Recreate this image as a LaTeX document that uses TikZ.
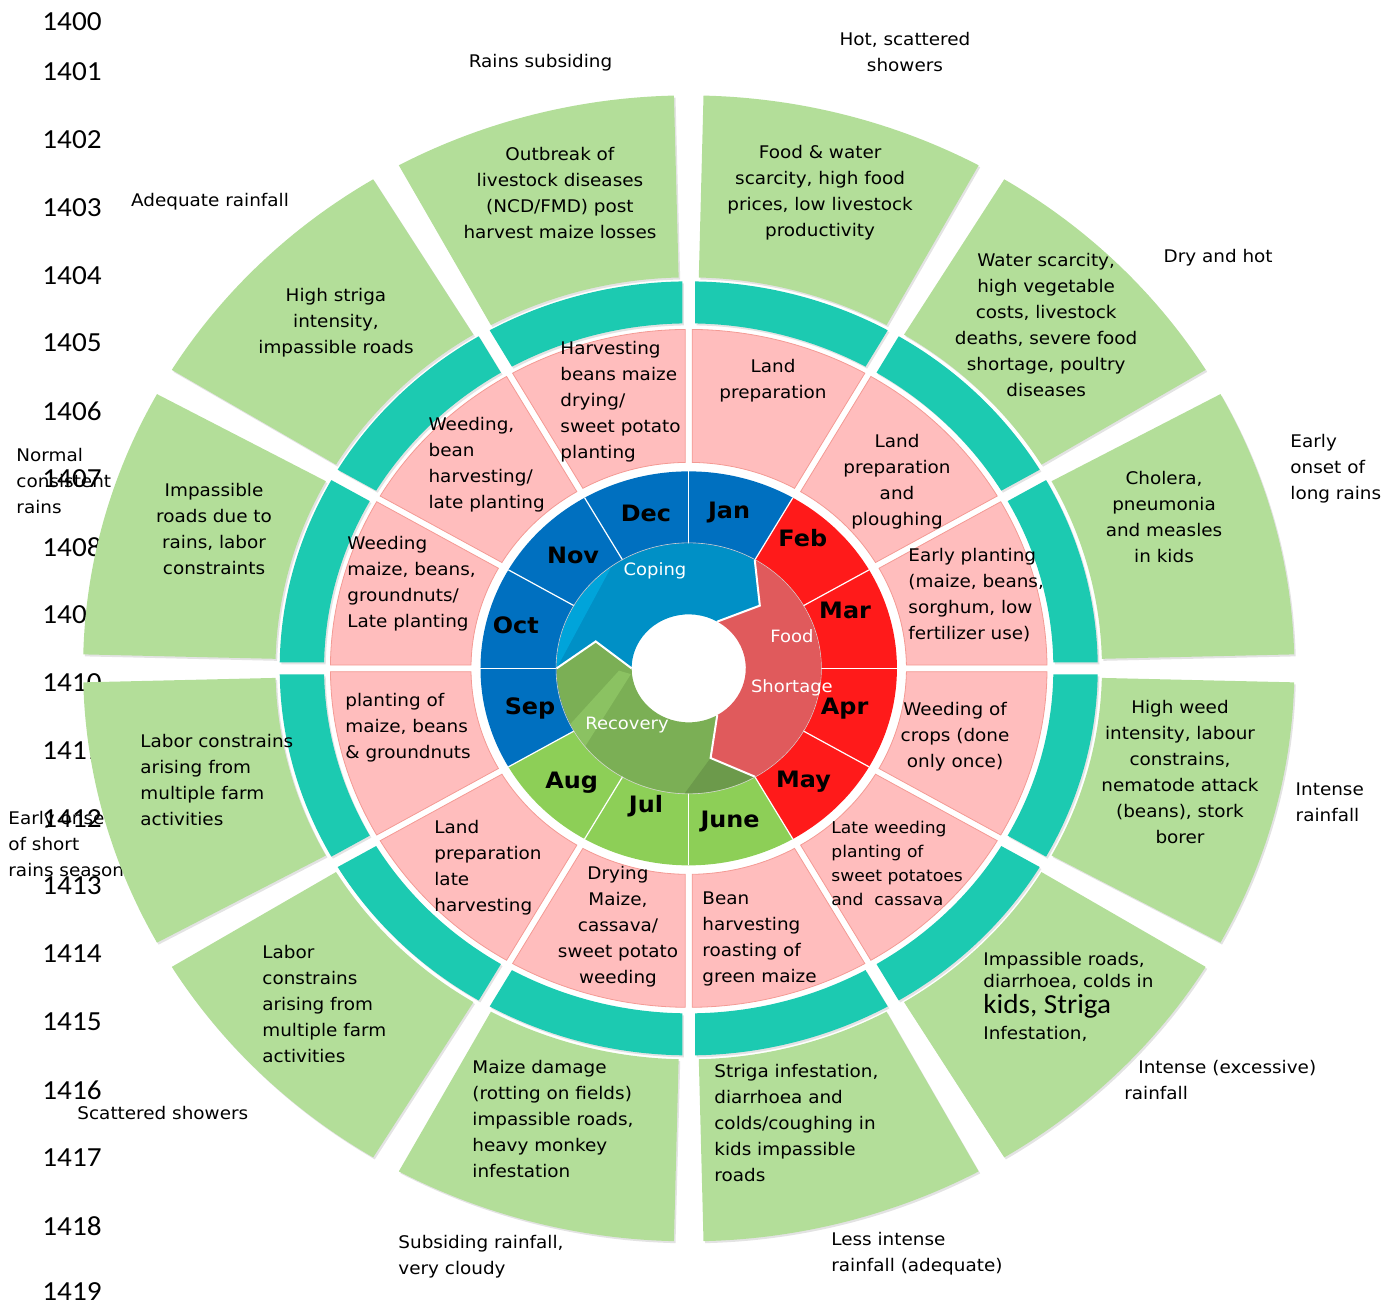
\documentclass[tikz,border=0pt]{standalone}
\usepackage{fontspec}
\setmainfont{DejaVu Sans}[FakeStretch=1.057]
\newfontfamily\numfont{Carlito}[FakeStretch=1.057]
\definecolor{monblue}{HTML}{0070C0}
\definecolor{monred}{HTML}{FF1A1A}
\definecolor{mongreen}{HTML}{8DCF57}
\definecolor{actpink}{HTML}{FFBDBD}
\definecolor{actline}{HTML}{F49A94}
\definecolor{ringteal}{HTML}{1CCAB1}
\definecolor{riskgreen}{HTML}{B3DE99}
\definecolor{copeblue}{HTML}{0090C6}
\definecolor{copelight}{HTML}{00A4DA}
\definecolor{foodred}{HTML}{E05A5C}
\definecolor{recgreen}{HTML}{7BAF55}
\definecolor{reclight}{HTML}{8BC262}
\definecolor{recdark}{HTML}{6C9A4B}
\newcommand\annsec[5]{({#1+deg(#5/#3)}:#3) -- ({#1+deg(#5/#4)}:#4)
  arc[start angle={#1+deg(#5/#4)}, end angle={#2-deg(#5/#4)}, radius=#4]
  -- ({#2-deg(#5/#3)}:#3)
  arc[start angle={#2-deg(#5/#3)}, end angle={#1+deg(#5/#3)}, radius=#3] -- cycle}
\begin{document}
\begin{tikzpicture}[x=0.5285pt, y=0.5pt,
  acttext/.style={inner sep=0pt, align=center, font=\fontsize{8.7}{13}\selectfont},
  risktext/.style={inner sep=0pt, align=center, font=\fontsize{8.7}{13}\selectfont},
  wxtext/.style={inner sep=0pt, align=center, font=\fontsize{8.7}{13}\selectfont},
  yrtext/.style={inner sep=0pt, anchor=west, font=\numfont\fontsize{13.8}{16}\selectfont},
  monlabel/.style={inner sep=0pt, font=\bfseries\fontsize{11.3}{13}\selectfont},
  cyclabel/.style={inner sep=0pt, text=white, font=\fontsize{8.5}{13}\selectfont},
  leftblock/.style={anchor=west, align=left},
  actsec/.style={fill=actpink, draw=actline, line width=0.4pt},
  secshadow/.style={fill=gray!22, shift={(1.5,-2)}}]
\useasboundingbox (-651.6,-635.6) rectangle (657.8,668.4);

\foreach \n/\yy in {1400/22,1401/72,1402/140,1403/208,1404/276,1405/343,1406/411,1407/479,1408/547,1409/615,1410/683,1411/751,1412/819,1413/886,1414/954,1415/1022,1416/1090,1417/1158,1418/1226,1419/1292}
  \node[yrtext] (yr\n) at (-611.8,{668.4-\yy}) {\n};

\node[wxtext] (wxDec) at (-140.2,605.4) {Rains subsiding};
\node[wxtext] (wxJan) at (204.6,616.4) {Hot, scattered\\showers};
\node[wxtext] (wxNov) at (-452.9,466.4) {Adequate rainfall};
\node[wxtext] (wxFeb) at (500.9,410.4) {Dry and hot};
\node[wxtext, leftblock] (wxOct) at (-636.4,187.4) {Normal\\consistent\\rains};
\node[wxtext, leftblock] (wxMar) at (568.9,199.4) {Early\\onset of\\long rains};
\node[wxtext, leftblock] (wxApr) at (573.9,-133.6) {Intense\\rainfall};
\node[wxtext, leftblock] (wxSep) at (-644,-175.6) {Early onset\\of short\\rains season};
\node[wxtext, leftblock] (wxMay) at (411.8,-411.6) {\hspace*{7pt}Intense (excessive)\\rainfall};
\node[wxtext, leftblock] (wxAug) at (-578.7,-444.6) {Scattered showers};
\node[wxtext, leftblock] (wxJul) at (-275,-588.6) {Subsiding rainfall,\\very cloudy};
\node[wxtext, leftblock] (wxJun) at (134.6,-585.1) {Less intense\\rainfall (adequate)};

\foreach \k in {0,...,11}{
  \fill[secshadow] \annsec{60-30*\k}{90-30*\k}{345}{387}{6};
  \fill[ringteal] \annsec{60-30*\k}{90-30*\k}{345}{387}{6};
  \fill[secshadow] \annsec{60-30*\k+1.4}{90-30*\k-1.4}{391}{573}{0};
  \fill[riskgreen] \annsec{60-30*\k+1.4}{90-30*\k-1.4}{391}{573}{0};
  \draw[actsec] \annsec{60-30*\k}{90-30*\k}{206}{339}{3.3};
}

\foreach \c [count=\k from 0] in {monblue,monred,monred,monred,monred,mongreen,mongreen,mongreen,monblue,monblue,monblue,monblue}
  \fill[\c] \annsec{60-30*\k}{90-30*\k}{118}{197}{0};
\foreach \a in {0,30,...,330}
  \draw[white, line width=0.6pt] (\a:118) -- (\a:197);

\fill[copeblue] (180:125) arc[start angle=180, end angle=60, radius=125] -- (43:92) -- (60:54)
  arc[start angle=60, end angle=180, radius=54] -- (163:92) -- cycle;
\fill[copelight] (180:125) arc[start angle=180, end angle=126, radius=125] -- cycle;
\fill[foodred] (60:125) arc[start angle=60, end angle=-60, radius=125] -- (-77:92) -- (-60:54)
  arc[start angle=-60, end angle=60, radius=54] -- (43:92) -- cycle;
\begin{scope}
  \clip (-60:125) arc[start angle=-60, end angle=-180, radius=125] -- (-197:92) -- (-180:54)
    arc[start angle=-180, end angle=-60, radius=54] -- (-77:92) -- cycle;
  \fill[recgreen] (0,0) circle[radius=130];
  \fill[reclight] (-153:128) -- (-141:128) -- (-174:55) -- (-178:66) -- cycle;
  \fill[recdark] (-60:126) arc[start angle=-60, end angle=-92, radius=126] -- (-77:92) -- cycle;
\end{scope}
\draw[white, line width=1pt] (60:125) -- (43:92) -- (60:54);
\draw[white, line width=1pt] (-60:125) -- (-77:92) -- (-60:54);
\draw[white, line width=1pt] (180:125) -- (163:92) -- (180:54);
\draw[gray!35, line width=0.3pt] (0,0) circle[radius=125.5];

\foreach \m/\a/\r in {Jan/76.2/160,Feb/50.3/169,Mar/21.5/159,Apr/-15.4/153,May/-46.2/157,June/-75.7/158.5,Jul/-106.3/144,Aug/-134.2/159,Sep/-164.9/155.5,Oct/165.4/169,Nov/134/157.6,Dec/104.6/160.5}
  \node[monlabel] (mon\m) at (\a:\r) {\m};

\node[cyclabel] (cycCope) at (-31.9,97.4) {Coping};
\node[cyclabel] (cycFood) at (97.6,32.4) {Food};
\node[cyclabel] (cycShort) at (97.6,-19.6) {Shortage};
\node[cyclabel] (cycRec) at (-58.4,-56.6) {Recovery};

\node[acttext] (actJan) at (79.8,287.4) {Land\\preparation};
\node[acttext] (actFeb) at (197.1,186.9) {Land\\preparation\\and\\ploughing};
\node[acttext, leftblock] (actMar) at (207.5,73.6) {Early planting\\(maize, beans,\\sorghum, low\\fertilizer use)};
\node[acttext] (actApr) at (252,-68.6) {Weeding of\\crops (done\\only once)};
\node[acttext, leftblock, font=\fontsize{8.1}{12}\selectfont] (actMay) at (134.6,-194.6) {Late weeding\\planting of\\sweet potatoes\\and\ \ cassava};
\node[acttext, leftblock] (actJun) at (12.6,-270.6) {Bean\\harvesting\\roasting of\\green maize};
\node[acttext] (actJul) at (-66.9,-258.6) {Drying\\Maize,\\cassava/\\sweet potato\\weeding};
\node[acttext, leftblock] (actAug) at (-241,-199.1) {Land\\preparation\\late\\harvesting};
\node[acttext, leftblock] (actSep) at (-325.2,-59.6) {planting of\\maize, beans\\\& groundnuts};
\node[acttext, leftblock] (actOct) at (-323.3,84.4) {Weeding\\maize, beans,\\groundnuts/\\Late planting};
\node[acttext, leftblock] (actNov) at (-246.5,203.4) {Weeding,\\bean\\harvesting/\\late planting};
\node[acttext, leftblock] (actDec) at (-121.7,266.4) {Harvesting\\beans maize\\drying/\\sweet potato\\planting};

\node[risktext] (riskJan) at (124.3,475.4) {Food \& water\\scarcity, high food\\prices, low livestock\\productivity};
\node[risktext] (riskFeb) at (338.2,342.9) {Water scarcity,\\high vegetable\\costs, livestock\\deaths, severe food\\shortage, poultry\\diseases};
\node[risktext] (riskMar) at (449.7,151.4) {Cholera,\\pneumonia\\and measles\\in kids};
\node[risktext] (riskApr) at (464.8,-103.6) {High weed\\intensity, labour\\constrains,\\nematode attack\\(beans), stork\\borer};
\node[risktext, leftblock] (riskMay) at (278.4,-328.6) {Impassible roads,\\[-2pt]diarrhoea, colds in\\{\numfont\fontsize{13.8}{16}\selectfont kids, Striga}\\Infestation,};
\node[risktext, leftblock] (riskJun) at (23.9,-454.6) {Striga infestation,\\diarrhoea and\\colds/coughing in\\kids impassible\\roads};
\node[risktext, leftblock] (riskJul) at (-205,-450.6) {Maize damage\\(rotting on fields)\\impassible roads,\\heavy monkey\\infestation};
\node[risktext, leftblock] (riskAug) at (-403.7,-335.6) {Labor\\constrains\\arising from\\multiple farm\\activities};
\node[risktext, leftblock] (riskSep) at (-519.1,-112.1) {Labor constrains\\arising from\\multiple farm\\activities};
\node[risktext] (riskOct) at (-449.1,139.4) {Impassible\\roads due to\\rains, labor\\constraints};
\node[risktext] (riskNov) at (-333.7,345.4) {High striga\\intensity,\\impassible roads};
\node[risktext] (riskDec) at (-121.8,475.4) {Outbreak of\\livestock diseases\\(NCD/FMD) post\\harvest maize losses};
\end{tikzpicture}
\end{document}
